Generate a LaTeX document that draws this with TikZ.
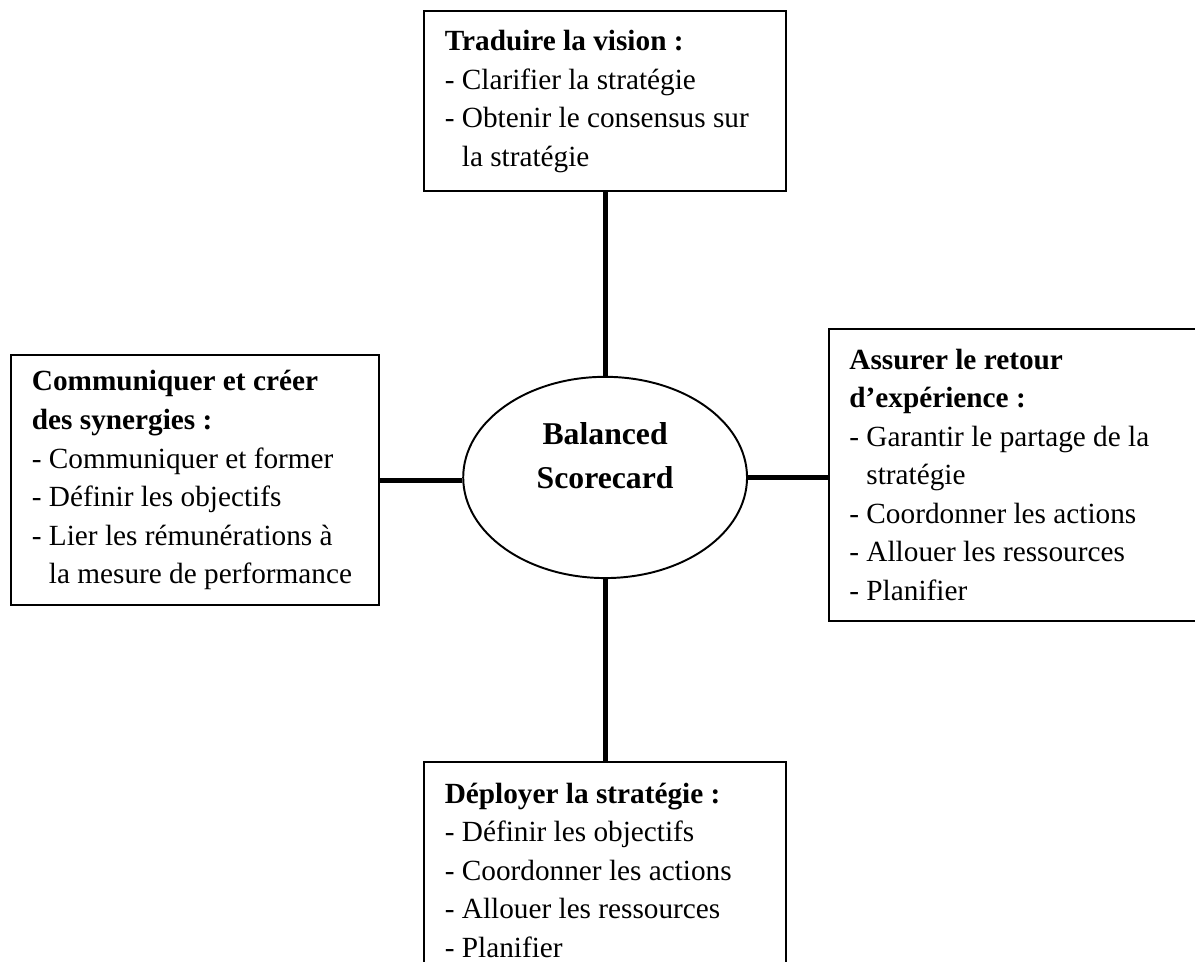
\documentclass[tikz,border=0pt]{standalone}
\usepackage{fontspec}
\setmainfont{Liberation Serif}
\usetikzlibrary{shapes.geometric}
\newcommand{\retrait}{\phantom{- }}

\begin{document}
\begin{tikzpicture}[
  bloc/.style={rectangle, draw, line width=0.8pt, align=flush left, inner xsep=0.3cm, inner ysep=0pt, font=\fontsize{12}{15.8}\selectfont},
  noyau/.style={ellipse, draw, line width=0.8pt, minimum width=4.09cm, minimum height=2.90cm, align=center, font=\fontsize{13}{18}\selectfont\bfseries},
  lien/.style={line width=2pt}
]
  \clip (-8.72,-6.97) rectangle (8.50,6.88);

  % Centre
  \node[noyau] (bsc) at (0,0) {Balanced\\Scorecard\\\mbox{}};

  % Axes
  \node[bloc, text width=4.62cm, minimum height=2.59cm] (vision) at (0,5.42)
    {\textbf{Traduire la vision :}\\- Clarifier la stratégie\\- Obtenir le consensus sur\\\retrait la stratégie};
  \node[bloc, text width=4.70cm, minimum height=3.60cm] (synergie) at (-5.91,-0.04)
    {\textbf{Communiquer et créer}\\\textbf{des synergies :}\\- Communiquer et former\\- Définir les objectifs\\- Lier les rémunérations à\\\retrait la mesure de performance};
  \node[bloc, text width=4.70cm, minimum height=4.21cm] (retour) at (5.87,0.04)
    {\textbf{Assurer le retour}\\\textbf{d’expérience :}\\- Garantir le partage de la\\\retrait stratégie\\- Coordonner les actions\\- Allouer les ressources\\- Planifier};
  \node[bloc, text width=4.62cm, minimum height=3.11cm] (deploy) at (0,-5.66)
    {\textbf{Déployer la stratégie :}\\- Définir les objectifs\\- Coordonner les actions\\- Allouer les ressources\\- Planifier};

  % Liens
  \draw[lien] (vision.south) -- (bsc.north);
  \draw[lien] (bsc.south) -- (deploy.north);
  \draw[lien] (synergie.east) -- (synergie.east -| bsc.west);
  \draw[lien] (bsc.east) -- (bsc.east -| retour.west);
\end{tikzpicture}
\end{document}
